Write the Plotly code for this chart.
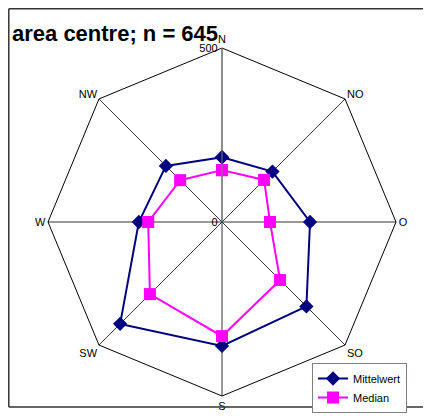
import plotly.graph_objects as go

# Himmelsrichtungen (clockwise from north)
directions = ["N", "NO", "O", "SO", "S", "SW", "W", "NW"]
mittelwert = [186, 205, 253, 343, 356, 414, 239, 228]
median = [149, 171, 138, 236, 328, 293, 212, 170]
title_text = "area centre; n = 645"

off = 8  # the html body adds an 8px margin
W, H = 431 - off, 416 - off
cx, cy, rad = 222 - off, 222 - off, 174


def px_x(v):
    return (v - off) / W


def px_y(v):
    return 1 - (v - off) / H


fig = go.Figure()
fig.add_trace(go.Scatterpolar(
    r=mittelwert + mittelwert[:1],
    theta=directions + directions[:1],
    name="Mittelwert",
    mode="lines+markers",
    line=dict(color="#000080", width=2),
    marker=dict(symbol="diamond", size=11, color="#000080"),
))
fig.add_trace(go.Scatterpolar(
    r=median + median[:1],
    theta=directions + directions[:1],
    name="Median",
    mode="lines+markers",
    line=dict(color="#ff00ff", width=2),
    marker=dict(symbol="square", size=12, color="#ff00ff"),
))

frame = dict(color="#333333", width=1.5)
x_left, y_top, y_bot = 0.8 / W, 1 - 0.8 / H, px_y(407)

fig.update_layout(
    width=W, height=H,
    margin=dict(l=0, r=0, t=0, b=0),
    paper_bgcolor="white",
    font=dict(family="Liberation Sans, Arial, sans-serif", size=11, color="black"),
    polar=dict(
        domain=dict(x=[(cx - rad) / W, (cx + rad) / W],
                    y=[1 - (cy + rad) / H, 1 - (cy - rad) / H]),
        bgcolor="white",
        gridshape="linear",
        angularaxis=dict(
            rotation=90, direction="clockwise",
            categoryorder="array", categoryarray=directions,
            showline=True, linecolor="black", linewidth=1,
            gridcolor="#333333", gridwidth=1,
            ticks="", tickfont=dict(size=11),
        ),
        radialaxis=dict(
            range=[0, 500], tickvals=[0, 500],
            angle=90, tickangle=90, side="counterclockwise",
            showline=True, linecolor="#808080", linewidth=1,
            showgrid=True, gridcolor="black",
            ticks="", tickfont=dict(size=11),
        ),
    ),
    legend=dict(
        x=px_x(312), y=px_y(363), xanchor="left", yanchor="top",
        bordercolor="#808080", borderwidth=1, bgcolor="white",
        font=dict(size=11), tracegroupgap=0,
    ),
    annotations=[dict(
        text="<b>" + title_text + "</b>",
        xref="paper", yref="paper", x=px_x(10), y=px_y(19),
        xanchor="left", yanchor="top", showarrow=False,
        font=dict(size=22, color="black"),
    )],
    shapes=[
        dict(type="line", xref="paper", yref="paper",
             x0=x_left, x1=1.0, y0=y_top, y1=y_top, line=frame),
        dict(type="line", xref="paper", yref="paper",
             x0=x_left, x1=1.0, y0=y_bot, y1=y_bot, line=frame),
        dict(type="line", xref="paper", yref="paper",
             x0=x_left, x1=x_left, y0=y_bot, y1=y_top, line=frame),
    ],
)

fig.write_html("out.html")
